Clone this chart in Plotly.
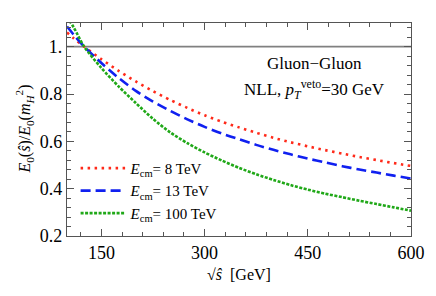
import plotly.graph_objects as go

# ---- data ----
sqrt_s = [100, 110, 125, 150, 175, 200, 225, 250, 275, 300, 325, 350, 375, 400,
          425, 450, 475, 500, 525, 550, 575, 600]
e8 = [1.06, 1.035, 1.0, 0.947, 0.898, 0.853, 0.812, 0.775, 0.741, 0.71, 0.683, 0.659, 0.636, 0.615,
      0.596, 0.579, 0.563, 0.548, 0.534, 0.521, 0.508, 0.496]
e13 = [1.085, 1.05, 1.0, 0.931, 0.868, 0.813, 0.768, 0.729, 0.693, 0.661, 0.633, 0.609, 0.585, 0.564,
       0.545, 0.527, 0.511, 0.495, 0.481, 0.468, 0.455, 0.443]
e100 = [1.125, 1.08, 1.0, 0.91, 0.832, 0.762, 0.695, 0.638, 0.592, 0.553, 0.519, 0.488, 0.461, 0.437,
        0.415, 0.396, 0.379, 0.364, 0.349, 0.335, 0.321, 0.307]

series_names = ["<i>E</i><sub>cm</sub>= 8 TeV", "<i>E</i><sub>cm</sub>= 13 TeV", "<i>E</i><sub>cm</sub>= 100 TeV"]
x_ticks = [150, 300, 450, 600]
x_ticktext = ["150", "300", "450", "600"]
y_ticks = [0.2, 0.4, 0.6, 0.8, 1.0]
y_ticktext = ["0.2", "0.4", "0.6", "0.8", "1."]
ref_level = 1.0

FONT = "Liberation Serif"
AXC = "#555555"

fig = go.Figure()
styles = [
    dict(color="#ff2a1a", dash="2.5px,4.5px"),
    dict(color="#1020f0", dash="10px,5px"),
    dict(color="#20a818", dash="3px,1.5px"),
]
for name, ys, st in zip(series_names, [e8, e13, e100], styles):
    fig.add_trace(go.Scatter(
        x=sqrt_s, y=ys, mode="lines", name=name,
        line=dict(color=st["color"], dash=st["dash"], width=2.6, shape="spline", smoothing=0.8),
    ))

fig.add_hline(y=ref_level, line=dict(color="#808080", width=1.6), layer="below")

axis_common = dict(
    showgrid=False, zeroline=False, showline=True, linecolor=AXC, linewidth=1.3,
    ticks="inside", ticklen=7, tickwidth=1.1, tickcolor=AXC, mirror="allticks",
    tickfont=dict(family=FONT, size=18, color="black"),
)

fig.update_xaxes(
    range=[100, 600], tickmode="array", tickvals=x_ticks, ticktext=x_ticktext,
    minor=dict(tickmode="linear", tick0=0, dtick=30, ticks="inside", ticklen=4, tickcolor=AXC, tickwidth=1),
    **axis_common,
)
fig.update_yaxes(
    range=[0.2, 1.1], tickmode="array", tickvals=y_ticks, ticktext=y_ticktext,
    minor=dict(tickmode="linear", tick0=0.2, dtick=0.04, ticks="inside", ticklen=4, tickcolor=AXC, tickwidth=1),
    **axis_common,
)

# page body has an 8px default margin, so the figure is sized 8px smaller
fig.update_layout(
    width=428, height=288,
    margin=dict(l=59, r=25, t=15, b=60),
    paper_bgcolor="white", plot_bgcolor="white",
    font=dict(family=FONT, color="black"),
    showlegend=True,
    legend=dict(x=0.025, y=0.395, xanchor="left", yanchor="top", bgcolor="rgba(0,0,0,0)",
                font=dict(family=FONT, size=15), itemwidth=45, tracegroupgap=0),
    annotations=[
        dict(text="Gluon−Gluon", x=0.72, y=0.812, xref="paper", yref="paper", xanchor="center",
             yanchor="middle", showarrow=False, font=dict(family=FONT, size=17)),
        dict(text="NLL, <i>p</i><sub><i>T</i></sub><sup>veto</sup>=30 GeV", x=0.72, y=0.69,
             xref="paper", yref="paper", xanchor="center", yanchor="middle", showarrow=False,
             font=dict(family=FONT, size=17)),
        dict(text="<i>E</i><sub>0</sub>(<i>ŝ</i>)/<i>E</i><sub>0</sub>(<i>m</i><sub><i>H</i></sub><sup>2</sup>)",
             x=-0.125, y=0.5, xref="paper", yref="paper", xanchor="center", yanchor="middle",
             textangle=-90, showarrow=False, font=dict(family=FONT, size=16)),
        dict(text="√<i>ŝ</i>  [GeV]", x=0.5, y=-0.183, xref="paper", yref="paper",
             xanchor="center", yanchor="middle", showarrow=False, font=dict(family=FONT, size=16)),
    ],
)

fig.write_html("out.html")
